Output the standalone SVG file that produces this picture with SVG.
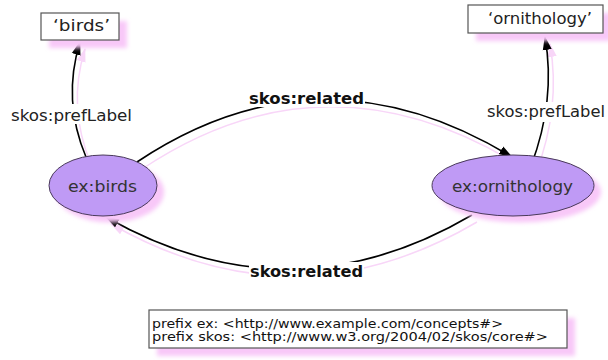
<svg xmlns="http://www.w3.org/2000/svg" width="608" height="360" viewBox="0 0 608 360">
<style>
.bg{fill:#ffffff}
.box{fill:#ffffff;stroke:#555555;stroke-width:1.2}
.ell{fill:#bf9af5;stroke:#4a3a5a;stroke-width:1}
.shadow{fill:#f8c8f8;filter:url(#blur)}
.edge{fill:none;stroke:#000000;stroke-width:1.6}
.edgesh{fill:none;stroke:#f8d6f8;stroke-width:1.5}
.t{font-family:"DejaVu Sans","Verdana",sans-serif;fill:#222222}
.lbl{font-size:15px}
.rel{font-size:15px;font-weight:bold;fill:#111111}
.node{font-size:16px;fill:#333333}
.pfx{font-size:12px;fill:#111111}
</style>
<defs>
<filter id="blur" x="-20%" y="-20%" width="140%" height="140%"><feGaussianBlur stdDeviation="2"/></filter>
<marker id="arr" viewBox="0 0 14 10" refX="13" refY="5" markerWidth="14" markerHeight="10" markerUnits="userSpaceOnUse" orient="auto"><path d="M0,0.5 L14,5 L0,9.5 z" fill="#000000"/></marker>
<marker id="arrsh" viewBox="0 0 14 10" refX="13" refY="5" markerWidth="14" markerHeight="10" markerUnits="userSpaceOnUse" orient="auto"><path d="M0,0.5 L14,5 L0,9.5 z" fill="#f8d6f8"/></marker>
</defs>
<rect x="0" y="0" width="608" height="360" fill="#ffffff"/>

<g id="connectors">
  <g transform="translate(5,7)">
    <path class="edgesh" d="M86,157 Q62,100 80,42" marker-end="url(#arrsh)"/>
    <path class="edgesh" d="M531,166 Q556,100 545,37" marker-end="url(#arrsh)"/>
    <path class="edgesh" d="M137,162 Q320,40 512,157" marker-end="url(#arrsh)"/>
    <path class="edgesh" d="M472,215 Q290,322 106,217" marker-end="url(#arrsh)"/>
  </g>
  <path id="e-birds-pref" class="edge" d="M86,157 Q62,100 80,42" marker-end="url(#arr)"/>
  <path id="e-orn-pref" class="edge" d="M531,166 Q556,100 545,37" marker-end="url(#arr)"/>
  <path id="e-birds-rel" class="edge" d="M137,162 Q320,40 512,157" marker-end="url(#arr)"/>
  <path id="e-orn-rel" class="edge" d="M472,215 Q290,322 106,217" marker-end="url(#arr)"/>
  <g id="edge-labels">
    <rect class="bg" x="10" y="104" width="124" height="20"/>
    <text class="t lbl" x="11" y="121" textLength="121" lengthAdjust="spacingAndGlyphs">skos:prefLabel</text>
    <rect class="bg" x="486" y="102" width="120" height="20"/>
    <text class="t lbl" x="487" y="117" textLength="118" lengthAdjust="spacingAndGlyphs">skos:prefLabel</text>
    <rect class="bg" x="248" y="90" width="117" height="17"/>
    <text class="t rel" x="249" y="104" textLength="115" lengthAdjust="spacingAndGlyphs">skos:related</text>
    <rect class="bg" x="249" y="262" width="115" height="18"/>
    <text class="t rel" x="250" y="277" textLength="113" lengthAdjust="spacingAndGlyphs">skos:related</text>
  </g>
</g>

<g id="lit-birds">
  <rect class="shadow" x="49" y="21" width="78" height="27"/>
  <rect class="box" x="41" y="13" width="78" height="27"/>
  <text class="t lbl" x="53" y="31" textLength="57" lengthAdjust="spacingAndGlyphs">‘birds’</text>
</g>

<g id="lit-ornithology">
  <rect class="shadow" x="476" y="13" width="135" height="28"/>
  <rect class="box" x="468" y="5" width="135" height="28"/>
  <text class="t lbl" x="488" y="24" textLength="104" lengthAdjust="spacingAndGlyphs">‘ornithology’</text>
</g>

<g id="ex-birds">
  <ellipse class="shadow" cx="110" cy="192" rx="54" ry="30.5"/>
  <ellipse class="ell" cx="103" cy="185.5" rx="54" ry="30.5"/>
  <text class="t node" x="68" y="192" textLength="69" lengthAdjust="spacingAndGlyphs">ex:birds</text>
</g>

<g id="ex-ornithology">
  <ellipse class="shadow" cx="520" cy="192" rx="81" ry="30.5"/>
  <ellipse class="ell" cx="513" cy="185.5" rx="81" ry="30.5"/>
  <text class="t node" x="452" y="192" textLength="121" lengthAdjust="spacingAndGlyphs">ex:ornithology</text>
</g>

<g id="prefixes">
  <rect class="shadow" x="157" y="318" width="418" height="38"/>
  <rect class="box" x="149" y="310" width="418" height="38"/>
  <text class="t pfx" x="152" y="328" textLength="351" lengthAdjust="spacingAndGlyphs">prefix ex: &lt;http://www.example.com/concepts#&gt;</text>
  <text class="t pfx" x="152" y="341" textLength="396" lengthAdjust="spacingAndGlyphs">prefix skos: &lt;http://www.w3.org/2004/02/skos/core#&gt;</text>
</g>
</svg>
